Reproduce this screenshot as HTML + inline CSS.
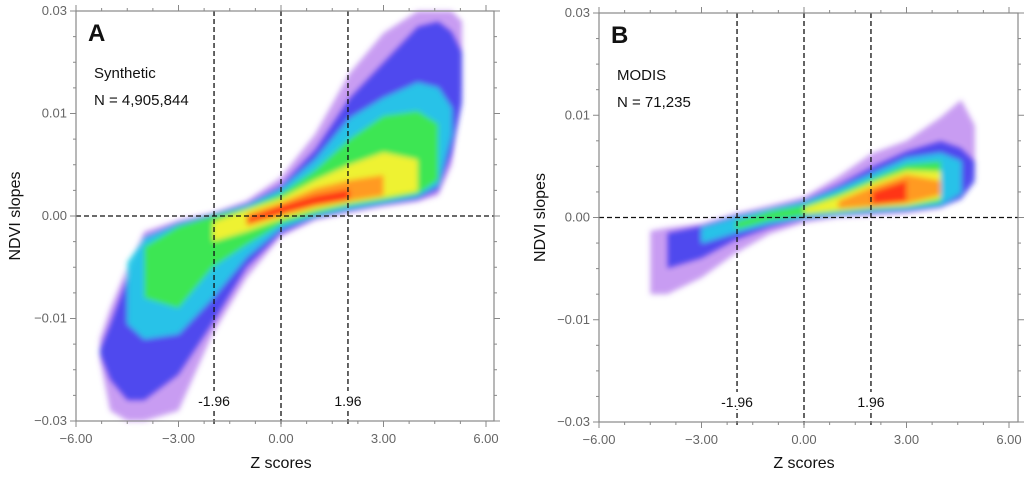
<!DOCTYPE html>
<html><head><meta charset="utf-8"><style>
html,body{margin:0;padding:0;background:#fff;}
svg text{font-family:"Liberation Sans",sans-serif;}
</style></head><body>
<svg id="fig" width="1024" height="473" xmlns="http://www.w3.org/2000/svg">
<defs><filter id="soft" x="-5%" y="-5%" width="110%" height="110%"><feGaussianBlur stdDeviation="2.6"/></filter></defs>
</svg>
<script>
// shared grid of z-scores
const zGrid = [-5.3,-5,-4.5,-4,-3,-2,-1,0,1,2,3,4,4.6,5,5.3];
const xTicks = [-6,-3,0,3,6];
const xTickLabels = ['\u22126.00','\u22123.00','0.00','3.00','6.00'];
const yTicks = [-0.03,-0.01,0,0.01,0.03];
const yTickLabels = ['\u22120.03','\u22120.01','0.00','0.01','0.03'];
const refLines = [-1.96,0,1.96];
const levelColors = ['#9a4be8','#3236ee','#22cfe8','#3ee84a','#eef230','#ff9a20','#ff3418'];
const levelOpacity = [0.55,0.8,0.9,0.95,1,1,1];
const levelNames = ['purple','blue','cyan','green','yellow','orange','red'];
const n = null;
// Panel A density bands (upper / lower envelopes per level)
const aHi = [
 [-0.014,-0.009,-0.005,-0.0015,-0.0004,0.0003,0.0015,0.0038,0.008,0.0178,0.0257,0.03,0.03,0.03,0.028],
 [-0.016,-0.011,-0.006,-0.002,-0.0006,0.0002,0.0012,0.003,0.0065,0.013,0.02,0.027,0.028,0.026,0.022],
 [n,n,-0.0045,-0.0022,-0.0008,0,0.001,0.0026,0.0055,0.0095,0.013,0.016,0.015,0.011,n],
 [n,n,n,-0.003,-0.001,0,0.0008,0.0022,0.0045,0.0075,0.0098,0.0105,0.009,n,n],
 [n,n,n,n,n,-0.0006,0.0006,0.0017,0.0035,0.005,0.0062,0.0055,n,n,n],
 [n,n,n,n,n,n,0.0002,0.0013,0.0027,0.0035,0.004,n,n,n,n],
 [n,n,n,n,n,n,-0.0002,0.001,0.002,0.0026,n,n,n,n,n]];
const aLo = [
 [-0.018,-0.028,-0.03,-0.03,-0.028,-0.013,-0.006,-0.002,-0.0004,0.0003,0.0009,0.0014,0.002,0.005,0.015],
 [-0.017,-0.022,-0.026,-0.026,-0.021,-0.011,-0.005,-0.0017,-0.0002,0.0005,0.0011,0.0016,0.0025,0.006,0.012],
 [n,n,-0.011,-0.014,-0.013,-0.008,-0.004,-0.0012,0,0.0007,0.0013,0.0019,0.003,0.008,n],
 [n,n,n,-0.008,-0.009,-0.005,-0.0028,-0.0008,0.0002,0.001,0.0015,0.0021,0.0035,n,n],
 [n,n,n,n,n,-0.0025,-0.0015,-0.0003,0.0006,0.0013,0.0018,0.0024,n,n,n],
 [n,n,n,n,n,n,-0.001,0,0.0009,0.0015,0.002,n,n,n,n],
 [n,n,n,n,n,n,-0.0007,0.0002,0.0011,0.0016,n,n,n,n,n]];
// Panel B density bands
const bHi = [
 [n,n,-0.0013,-0.001,-0.0006,0.0004,0.0012,0.002,0.004,0.0063,0.0075,0.0098,0.013,0.009,n],
 [n,n,n,-0.0015,-0.0008,0.0002,0.0009,0.0017,0.0032,0.005,0.0065,0.0075,0.0068,0.0055,n],
 [n,n,n,n,-0.001,0,0.0008,0.0015,0.0028,0.0043,0.0058,0.0063,0.0055,n,n],
 [n,n,n,n,n,-0.0004,0.0006,0.0012,0.0024,0.0038,0.0052,0.0055,n,n,n],
 [n,n,n,n,n,n,n,0.0009,0.002,0.0034,0.0046,0.0045,n,n,n],
 [n,n,n,n,n,n,n,n,0.0016,0.003,0.0042,0.0036,n,n,n],
 [n,n,n,n,n,n,n,n,n,0.0025,0.0036,n,n,n,n]];
const bLo = [
 [n,n,-0.0075,-0.0075,-0.0059,-0.0035,-0.0016,-0.0005,0,0.0002,0.0004,0.0009,0.002,0.0043,n],
 [n,n,n,-0.005,-0.004,-0.0022,-0.001,-0.0002,0.0002,0.0004,0.0006,0.001,0.0018,0.0035,n],
 [n,n,n,n,-0.0025,-0.0015,-0.0006,0,0.0003,0.0006,0.0008,0.0012,0.0024,n,n],
 [n,n,n,n,n,-0.0012,-0.0003,0.0002,0.0005,0.0008,0.001,0.0015,n,n,n],
 [n,n,n,n,n,n,n,0.0004,0.0007,0.001,0.0012,0.0019,n,n,n],
 [n,n,n,n,n,n,n,n,0.0009,0.0011,0.0014,0.0022,n,n,n],
 [n,n,n,n,n,n,n,n,n,0.0013,0.0016,n,n,n,n]];

const NS='http://www.w3.org/2000/svg';
const svg=document.getElementById('fig');
function mk(tag,attrs,parent){const e=document.createElementNS(NS,tag);for(const k in attrs)e.setAttribute(k,attrs[k]);(parent||svg).appendChild(e);return e;}

function panel(p){
  const g=mk('g',{});
  
  
  const xs=z=>p.x0+(z+6)/12*(p.x6-p.x0);
  const ys=v=>{
    const step=(p.yBot-p.yTop)/4;
    for(let i=0;i<yTicks.length-1;i++){
      const a=yTicks[i],b=yTicks[i+1];
      if(v<=b||i===yTicks.length-2){return p.yBot-step*(i+(v-a)/(b-a));}
    }
  };
  const dg=mk('g',{filter:'url(#soft)'},g);
  
  
  for(let L=0;L<levelColors.length;L++){
    const hi=p.hi[L],lo=p.lo[L];const top=[],bot=[];
    for(let i=0;i<zGrid.length;i++){
      if(hi[i]!==null&&lo[i]!==null){top.push([xs(zGrid[i]),ys(hi[i])]);bot.push([xs(zGrid[i]),ys(lo[i])]);}
    }
    if(top.length<2)continue;
    const pts=top.concat(bot.reverse()).map(q=>q[0].toFixed(1)+','+q[1].toFixed(1)).join(' ');
    const poly=mk('polygon',{points:pts,fill:levelColors[L],'fill-opacity':levelOpacity[L],'stroke-linejoin':'round'},dg);
    
    
  }
  for(const r of refLines){
    const l=mk('line',{x1:xs(r),x2:xs(r),y1:p.yTop,y2:p.yBot+3,stroke:'#111','stroke-width':1.3,'stroke-dasharray':'5,3'},g);
    
    
  }
  const h=mk('line',{x1:p.x0,x2:p.xR,y1:ys(0),y2:ys(0),stroke:'#111','stroke-width':1.3,'stroke-dasharray':'5,3'},g);
  
  
  const fr=mk('rect',{x:p.x0,y:p.yTop,width:p.xR-p.x0,height:p.yBot-p.yTop,fill:'none',stroke:'#888','stroke-width':1.2},g);
  
  
  const tg=mk('g',{stroke:'#888','stroke-width':1},g);
  
  
  for(let k=0;k<=16;k++){
    const z=-6+k*0.75;const X=xs(z);const len=(k%4===0)?6:3;
    mk('line',{x1:X,x2:X,y1:p.yBot,y2:p.yBot+len},tg);
    mk('line',{x1:X,x2:X,y1:p.yTop,y2:p.yTop-len},tg);
  }
  const step=(p.yBot-p.yTop)/16;
  for(let k=0;k<=16;k++){
    const Y=p.yBot-k*step;const len=(k%4===0)?6:3;
    mk('line',{x1:p.x0,x2:p.x0-len,y1:Y,y2:Y},tg);
    mk('line',{x1:p.xR,x2:p.xR+len,y1:Y,y2:Y},tg);
  }
  xTicks.forEach((t,i)=>{
    const tx=mk('text',{x:xs(t),y:p.yBot+22,'text-anchor':'middle','font-size':13,fill:'#666'},g);
    tx.textContent=xTickLabels[i];
    
    
  });
  yTicks.forEach((t,i)=>{
    const tx=mk('text',{x:p.x0-9,y:ys(t)+4,'text-anchor':'end','font-size':13,fill:'#666'},g);
    tx.textContent=yTickLabels[i];
    
    
  });
  const xt=mk('text',{x:xs(0),y:468,'text-anchor':'middle','font-size':16,fill:'#111'},g);
  xt.textContent='Z scores';
  
  
  const yt=mk('text',{x:0,y:0,'text-anchor':'middle','font-size':16,fill:'#111',transform:'translate('+p.yTitleX+','+ys(0)+') rotate(-90)'},g);
  yt.textContent='NDVI slopes';
  
  
  const lab=mk('text',{x:p.x0+12,y:p.yTop+30,'font-size':24,'font-weight':'bold',fill:'#111'},g);
  lab.textContent=p.id;
  
  
  const t1=mk('text',{x:p.x0+18,y:p.yTop+67,'font-size':15,fill:'#111'},g);
  t1.textContent=p.name;
  
  
  const t2=mk('text',{x:p.x0+18,y:p.yTop+94,'font-size':15,fill:'#111'},g);
  t2.textContent=p.count;
  
  
  [[-1.96,'-1.96'],[1.96,'1.96']].forEach(q=>{
    const r=mk('rect',{x:xs(q[0])-18,y:p.yBot-30,width:36,height:17,fill:'#fff'},g);
    
    
    const tx=mk('text',{x:xs(q[0]),y:p.yBot-15,'text-anchor':'middle','font-size':14,fill:'#111'},g);
    tx.textContent=q[1];
    
    
  });
}
panel({id:'A',name:'Synthetic',count:'N = 4,905,844',x0:76,x6:486,xR:494,yTop:11,yBot:421,hi:aHi,lo:aLo,yTitleX:20});
panel({id:'B',name:'MODIS',count:'N = 71,235',x0:599,x6:1009,xR:1018,yTop:13,yBot:422,hi:bHi,lo:bLo,yTitleX:545});
</script>
</body></html>
